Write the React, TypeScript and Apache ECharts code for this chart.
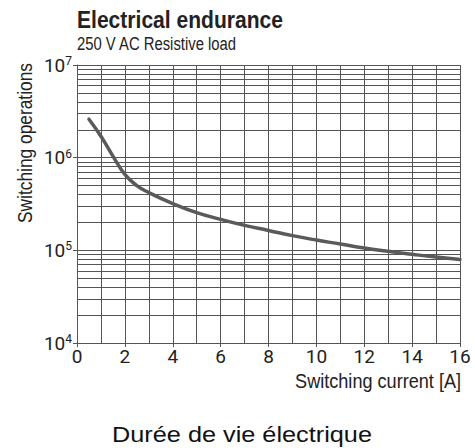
import React, { useEffect, useRef } from "react";
import * as echarts from "echarts";

// ---- data ----
const currentA: number[] = [0.5, 1, 1.5, 2, 2.5, 3, 4, 5, 6, 7, 8, 9, 10, 11, 12, 13, 14, 15, 16];
const switchingOps: number[] = [
  2.6e6, 1.7e6, 1.04e6, 6.6e5, 5.0e5, 4.2e5, 3.2e5, 2.55e5, 2.16e5, 1.86e5,
  1.64e5, 1.44e5, 1.29e5, 1.17e5, 1.06e5, 9.75e4, 9.06e4, 8.46e4, 7.98e4,
];
const xTicks: number[] = [0, 2, 4, 6, 8, 10, 12, 14, 16];
const yDecades: number[] = [1e4, 1e5, 1e6, 1e7];
const minorMultipliers: number[] = [2, 3, 4, 5, 6, 7, 8, 9];

const titleText = "Electrical endurance";
const subtitleText = "250 V AC Resistive load";
const xName = "Switching current [A]";
const yName = "Switching operations";
const captionText = "Durée de vie électrique";

const GRID = "#555555";
const INK = "#222222";
const FONT = "'Liberation Sans', Arial, sans-serif";
const LABEL_FONT = "'Liberation Sans Narrow', Roboto, sans-serif";

function fitScale(text: string, font: string, target: number): number {
  const ctx = document.createElement("canvas").getContext("2d");
  if (!ctx) return 1;
  ctx.font = font;
  const w = ctx.measureText(text).width;
  return w > 0 ? target / w : 1;
}

export default function App() {
  const ref = useRef<HTMLDivElement>(null);

  useEffect(() => {
    if (!ref.current) return;
    const chart = echarts.init(ref.current, undefined, { renderer: "svg" });

    const minorLines: { yAxis: number }[] = [];
    for (let i = 0; i < yDecades.length - 1; i++) {
      for (const m of minorMultipliers) minorLines.push({ yAxis: yDecades[i] * m });
    }

    const sTitle = fitScale(titleText, `bold 23px ${FONT}`, 206);
    const sSub = fitScale(subtitleText, `18px ${FONT}`, 160);
    const sX = fitScale(xName, `21px ${FONT}`, 166);
    const sY = fitScale(yName, `21px ${FONT}`, 160);
    const sCap = fitScale(captionText, `22px ${FONT}`, 260);

    chart.setOption({
      animation: false,
      backgroundColor: "#ffffff",
      grid: { left: 77, right: 15, top: 65, bottom: 105, containLabel: false },
      xAxis: {
        type: "value",
        min: xTicks[0],
        max: xTicks[xTicks.length - 1],
        interval: 2,
        axisLine: { show: true, lineStyle: { color: GRID, width: 1 } },
        axisTick: { show: true, length: 4, lineStyle: { color: GRID } },
        axisLabel: {
          margin: 4,
          color: INK,
          fontSize: 19,
          fontFamily: LABEL_FONT,
        },
        splitLine: { show: true, lineStyle: { color: GRID, width: 1 } },
        minorTick: { show: false, splitNumber: 2 },
        minorSplitLine: { show: true, lineStyle: { color: GRID, width: 1 } },
      },
      yAxis: {
        type: "log",
        logBase: 10,
        min: yDecades[0],
        max: yDecades[yDecades.length - 1],
        axisLine: { show: true, lineStyle: { color: GRID, width: 1 } },
        axisTick: { show: true, length: 4, lineStyle: { color: GRID } },
        axisLabel: {
          margin: 5,
          color: INK,
          formatter: (v: number) => `{b|10}{s|${Math.round(Math.log10(v))}}`,
          rich: {
            b: { fontSize: 19, lineHeight: 20, color: INK, fontFamily: LABEL_FONT },
            s: {
              fontSize: 12,
              lineHeight: 20,
              verticalAlign: "top",
              color: INK,
              fontFamily: LABEL_FONT,
            },
          },
        },
        splitLine: { show: true, lineStyle: { color: GRID, width: 1 } },
      },
      series: [
        {
          type: "line",
          data: currentA.map((x, i) => [x, switchingOps[i]]),
          smooth: 0.5,
          showSymbol: false,
          symbol: "none",
          lineStyle: { color: "#5a5a5a", width: 3.5, cap: "round", join: "round" },
          z: 5,
          markLine: {
            silent: true,
            symbol: ["none", "none"],
            label: { show: false },
            lineStyle: { type: "solid", color: GRID, width: 1 },
            data: minorLines,
            z: 1,
          },
        },
      ],
      graphic: [
        {
          type: "text",
          x: 77,
          y: 20,
          scaleX: sTitle,
          style: {
            text: titleText,
            font: `bold 23px ${FONT}`,
            fill: INK,
            textAlign: "left",
            textVerticalAlign: "middle",
          },
        },
        {
          type: "text",
          x: 77,
          y: 43.5,
          scaleX: sSub,
          style: {
            text: subtitleText,
            font: `18px ${FONT}`,
            fill: INK,
            textAlign: "left",
            textVerticalAlign: "middle",
          },
        },
        {
          type: "text",
          x: 461,
          y: 381,
          scaleX: sX,
          style: {
            text: xName,
            font: `21px ${FONT}`,
            fill: INK,
            textAlign: "right",
            textVerticalAlign: "middle",
          },
        },
        {
          type: "text",
          x: 24.5,
          y: 143,
          rotation: Math.PI / 2,
          scaleX: sY,
          style: {
            text: yName,
            font: `21px ${FONT}`,
            fill: INK,
            textAlign: "center",
            textVerticalAlign: "middle",
          },
        },
        {
          type: "text",
          x: 242,
          y: 435,
          scaleX: sCap,
          style: {
            text: captionText,
            font: `22px ${FONT}`,
            fill: "#111111",
            textAlign: "center",
            textVerticalAlign: "middle",
          },
        },
      ],
    });

    return () => chart.dispose();
  }, []);

  return (
    <div
      ref={ref}
      style={{ position: "fixed", left: 0, top: 0, width: 475, height: 448 }}
    />
  );
}
